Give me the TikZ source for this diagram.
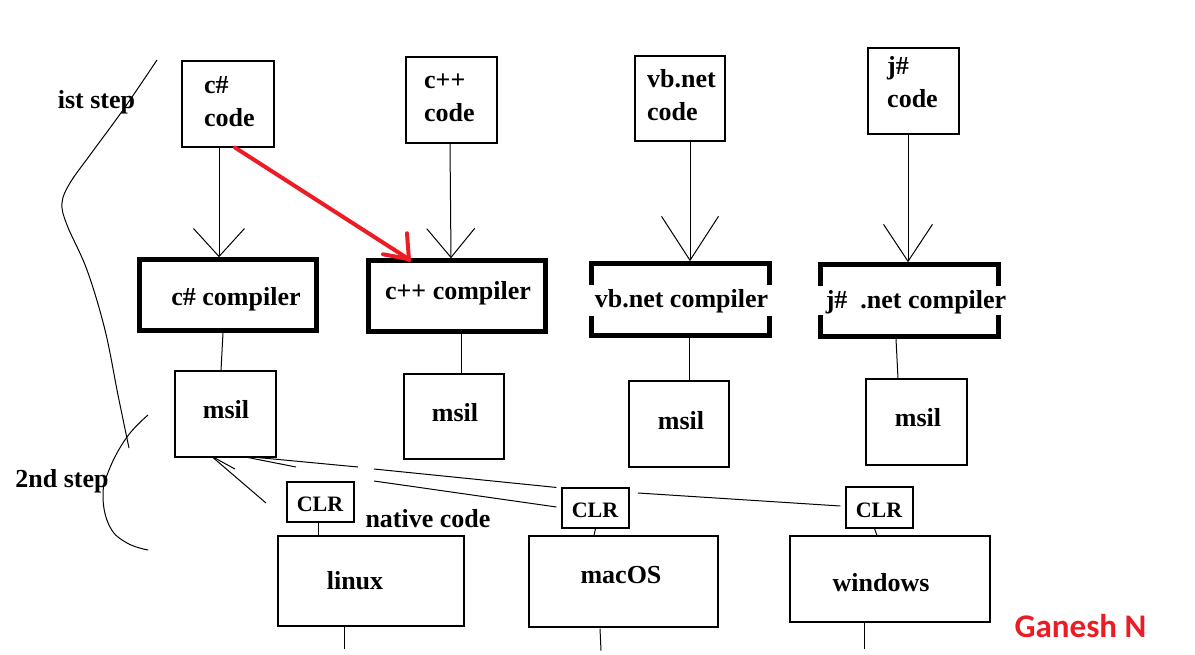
\documentclass[tikz,border=0pt]{standalone}
\usepackage{fontspec}
\setmainfont{Liberation Serif}
\newfontfamily\gfont{Carlito}
\usetikzlibrary{arrows.meta,calc}
\definecolor{pred}{RGB}{237,28,36}
\tikzset{
  box/.style={draw, line width=1.1pt, inner sep=0pt, rectangle},
  cbox/.style={draw, line width=4.5pt, inner sep=0pt, rectangle},
  obox/.style={inner sep=0pt, outer sep=0pt, rectangle},
  bracket/.style={line width=4.5pt, line cap=rect},
  thinline/.style={line width=1pt},
  redline/.style={line width=4pt, color=pred, line cap=round},
  txt/.style={inner sep=0pt, font=\fontsize{26}{32}\selectfont\bfseries},
  clrtxt/.style={inner sep=0pt, font=\fontsize{22}{26}\selectfont\bfseries},
  gtxt/.style={inner sep=0pt, text=pred, font=\fontsize{33}{38}\selectfont\gfont\bfseries},
}
\begin{document}
\begin{tikzpicture}[x=1pt,y=-1pt]
\useasboundingbox (0,0) rectangle (1195,654);

% source code boxes
\node[box, minimum width=92pt, minimum height=86pt] (cs) at (228,104) {};
\node[box, minimum width=91pt, minimum height=86pt] (cpp) at (451.5,100) {};
\node[box, minimum width=90pt, minimum height=85pt] (vb) at (680,98.5) {};
\node[box, minimum width=91pt, minimum height=86pt] (js) at (913.5,91) {};
\node[txt, anchor=base west] (tcs1) at (204,93) {c\#};
\node[txt, anchor=base west] (tcs2) at (204,126) {code};
\node[txt, anchor=base west] (tcpp1) at (424,88.5) {c++};
\node[txt, anchor=base west] (tcpp2) at (424,121) {code};
\node[txt, anchor=base west] (tvb1) at (647,87) {vb.net};
\node[txt, anchor=base west] (tvb2) at (647,120) {code};
\node[txt, anchor=base west] (tjs1) at (887,74.5) {j\#};
\node[txt, anchor=base west] (tjs2) at (887,107) {code};

% compiler boxes
\node[cbox, minimum width=177pt, minimum height=71pt] (c1) at (228,295) {};
\node[cbox, minimum width=177pt, minimum height=71pt] (c2) at (457,296) {};
\node[obox, minimum width=178pt, minimum height=72pt] (c3) at (680.5,299.5) {};
\node[obox, minimum width=178pt, minimum height=72pt] (c4) at (909.5,300.5) {};
\draw[bracket] ([yshift=-19pt]c3.north west) -- (c3.north west) -- (c3.north east) -- ([yshift=-19pt]c3.north east);
\draw[bracket] ([yshift=17pt]c3.south west) -- (c3.south west) -- (c3.south east) -- ([yshift=17pt]c3.south east);
\draw[bracket] ([yshift=-19pt]c4.north west) -- (c4.north west) -- (c4.north east) -- ([yshift=-19pt]c4.north east);
\draw[bracket] ([yshift=19pt]c4.south west) -- (c4.south west) -- (c4.south east) -- ([yshift=19pt]c4.south east);
\node[txt, anchor=base] (tc1) at (236,305) {c\# compiler};
\node[txt, anchor=base] (tc2) at (458,299.5) {c++ compiler};
\node[txt, anchor=base] (tc3) at (681.5,307.5) {vb.net compiler};
\node[txt, anchor=base] (tc4) at (916,308) {j\#\ \ .net compiler};

% code -> compiler arrows
\draw[thinline, -{Straight Barb[length=28pt,width=51pt]}] ([xshift=-9pt]cs.south) -- ([xshift=-9pt]c1.north);
\draw[thinline, -{Straight Barb[length=29pt,width=48pt]}] ([xshift=-1.5pt]cpp.south) -- ([xshift=-6pt]c2.north);
\draw[thinline, -{Straight Barb[length=44pt,width=57pt]}] ([xshift=10pt]vb.south) -- ([xshift=9.5pt,yshift=2.25pt]c3.north);
\draw[thinline, -{Straight Barb[length=37pt,width=49pt]}] ([xshift=-5.5pt]js.south) -- ([xshift=-1.5pt,yshift=2.25pt]c4.north);

% red arrow
\coordinate (rtip) at ([xshift=-48pt,yshift=-1pt]c2.north);
\draw[redline] ([xshift=7pt]cs.south) -- (rtip);
\draw[redline] ([yshift=-1pt]rtip) -- ++(-2,-27);
\draw[redline] (rtip) -- ++(-26,-5);

% msil boxes
\node[box, minimum width=101pt, minimum height=86pt] (m1) at (225.5,414) {};
\node[box, minimum width=100pt, minimum height=85pt] (m2) at (454,416.5) {};
\node[box, minimum width=100pt, minimum height=86pt] (m3) at (679,424) {};
\node[box, minimum width=101pt, minimum height=86pt] (m4) at (916.5,422) {};
\node[txt, anchor=base] (tm1) at (226,418) {msil};
\node[txt, anchor=base] (tm2) at (455,421) {msil};
\node[txt, anchor=base] (tm3) at (681,429) {msil};
\node[txt, anchor=base] (tm4) at (918,426) {msil};

% compiler -> msil
\draw[thinline] ([xshift=-5pt]c1.south) -- ([xshift=-4.5pt]m1.north);
\draw[thinline] ([xshift=4pt]c2.south) -- ([xshift=7pt]m2.north);
\draw[thinline] ([xshift=8.5pt,yshift=-2.25pt]c3.south) -- ([xshift=10pt]m3.north);
\draw[thinline] ([xshift=-13.5pt,yshift=-2.25pt]c4.south) -- ([xshift=-18.5pt]m4.north);

% CLR boxes
\node[box, minimum width=67pt, minimum height=40pt] (clr1) at (320.5,502) {};
\node[box, minimum width=67pt, minimum height=40pt] (clr2) at (595.5,508) {};
\node[box, minimum width=67pt, minimum height=41pt] (clr3) at (879.5,507.5) {};
\node[clrtxt, anchor=base] (tclr1) at (320,511.5) {CLR};
\node[clrtxt, anchor=base] (tclr2) at (595,517) {CLR};
\node[clrtxt, anchor=base] (tclr3) at (879,517.5) {CLR};

% OS boxes
\node[box, minimum width=186pt, minimum height=90pt] (linux) at (371,581) {};
\node[box, minimum width=189pt, minimum height=91pt] (mac) at (623.5,581.5) {};
\node[box, minimum width=200pt, minimum height=86pt] (win) at (890,579) {};
\node[txt, anchor=base] (tlinux) at (355,589) {linux};
\node[txt, anchor=base] (tmac) at (621,583) {macOS};
\node[txt, anchor=base] (twin) at (881,591.5) {windows};

% CLR -> OS
\draw[thinline] ([xshift=-2.5pt]clr1.south) -- ([xshift=-53pt]linux.north);
\draw[thinline] ([xshift=0pt]clr2.south) -- ([xshift=-29.5pt]mac.north);
\draw[thinline] ([xshift=-5pt]clr3.south) -- ([xshift=-13pt]win.north);

% lines below OS boxes
\coordinate (b1) at ([xshift=-27pt,yshift=-22pt]linux.south);
\coordinate (b2) at ([xshift=-22.5pt,yshift=-23pt]mac.south);
\coordinate (b3) at ([xshift=-26pt,yshift=-26pt]win.south);
\draw[thinline] ([xshift=-27pt]linux.south) -- (b1);
\draw[thinline] ([xshift=-23.5pt,yshift=-1pt]mac.south) -- (b2);
\draw[thinline] ([xshift=-26pt]win.south) -- (b3);

% msil -> CLR lines (hand drawn, broken)
\coordinate (e1) at (266,503);
\coordinate (e2) at (235,469);
\coordinate (g1) at (296,467);
\coordinate (g2) at (374,481);
\coordinate (g3) at (358,467);
\coordinate (g4) at (374,469);
\coordinate (g5) at (638,493);
\draw[thinline] ([xshift=-12.5pt]m1.south) -- (e1);
\draw[thinline] ([xshift=-11.5pt]m1.south) -- (e2);
\draw[thinline] ([xshift=17.5pt,yshift=1pt]m1.south) -- (g1);
\draw[thinline] (g2) -- ([xshift=-5pt,yshift=1pt]clr2.west);
\draw[thinline] ([xshift=32.5pt]m1.south) -- (g3);
\draw[thinline] (g4) -- ([xshift=-5pt]clr2.north west);
\draw[thinline] (g5) -- ([xshift=-5pt,yshift=1.5pt]clr3.west);

% side brackets (curves)
\draw[thinline] plot[smooth, tension=0.6] coordinates {(157,60) (123,110) (90,155) (70,183) (62,203) (67,225) (87,270) (105,330) (118,395) (129,448)};
\draw[thinline] plot[smooth, tension=0.7] coordinates {(148,415) (127,437) (109,470) (103,497) (110,527) (127,543) (148,550)};

% labels
\node[txt, anchor=base] (step1) at (96.5,108) {ist step};
\node[txt, anchor=base] (step2) at (62,487) {2nd step};
\node[txt, anchor=base] (native) at (428,527) {native code};
\node[gtxt, anchor=base] (author) at (1080.5,637) {Ganesh N};
\end{tikzpicture}
\end{document}
